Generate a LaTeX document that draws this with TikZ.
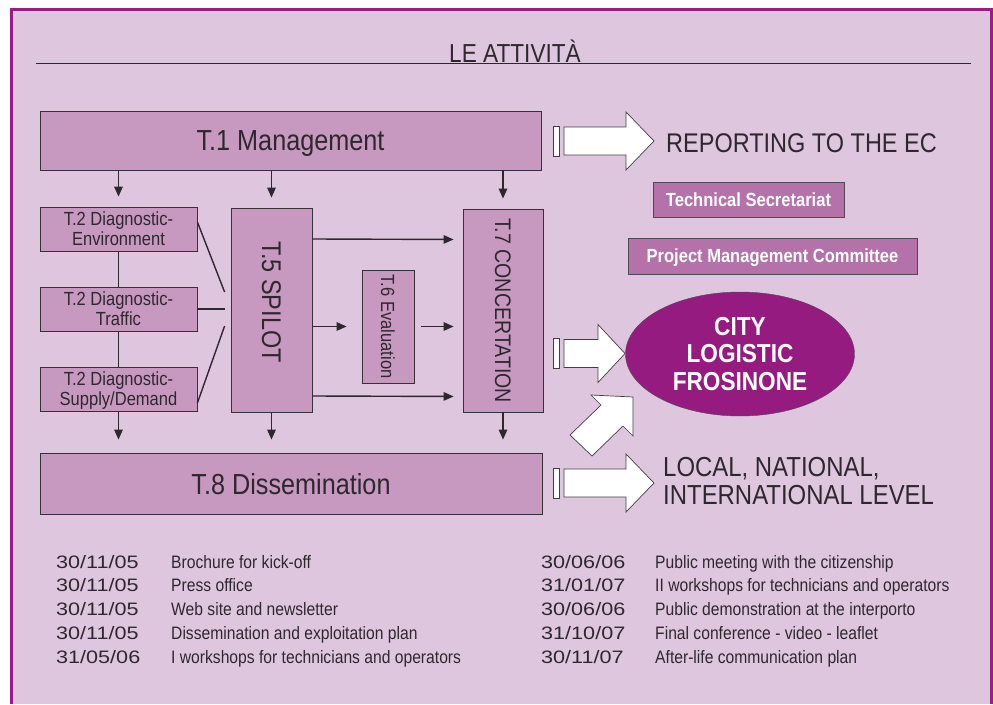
\documentclass[tikz,border=0pt]{standalone}
\usepackage{fontspec}
\setmainfont{Liberation Sans}[FakeStretch=0.87]
\newfontfamily\datefont{Liberation Sans}[FakeStretch=1.2]
\usepackage{tikz}
\usetikzlibrary{positioning, shapes.geometric, arrows.meta, calc}

\definecolor{lilacbg}{RGB}{223,198,223}
\definecolor{framepurple}{RGB}{155,27,135}
\definecolor{taskfill}{RGB}{199,153,193}
\definecolor{badgefill}{RGB}{181,113,170}
\definecolor{cityfill}{RGB}{150,27,128}
\definecolor{textdark}{RGB}{45,40,45}

\begin{document}
\begin{tikzpicture}[x=1pt, y=-1pt,
    task/.style={draw=black!80, fill=taskfill, line width=0.8pt, inner sep=0pt, text=textdark, align=center, text depth=0pt},
    arr/.style={-{Triangle[length=10pt,width=8.5pt]}, line width=1.4pt, draw=textdark},
    link/.style={line width=1.4pt, draw=textdark},
    blockarrow/.style={draw=black!75, fill=white, line width=0.7pt},
    badge/.style={draw=black!70, fill=badgefill, text=white, inner sep=0pt, text depth=0pt, font={\fontsize{19}{22}\selectfont\bfseries}},
    entry/.style={anchor=base west, inner sep=0pt, text=textdark, font={\fontsize{18}{20}\selectfont}}]
  \useasboundingbox (0,0) rectangle (993,704);
  \fill[white] (0,0) rectangle (993,704);
  \fill[lilacbg] (11,9) rectangle (991,704);
  \draw[framepurple, line width=3pt] (11,704) -- (11,9) -- (991,9) -- (991,704);

  \draw[textdark, line width=0.9pt] (36,63) -- (971,63);
  \node[anchor=base, inner sep=0pt, text=textdark, font={\fontsize{26}{28}\selectfont}] (title) at (515,62) {LE ATTIVITÀ};

  % tasks
  \node[task, minimum width=501pt, minimum height=59pt, font={\fontsize{29}{30}\selectfont}] (t1) at (290.5,140.5) {T.1 Management};
  \node[task, minimum width=157pt, minimum height=44pt, font={\fontsize{19}{20}\selectfont}] (env) at (118.5,229) {T.2 Diagnostic-\\Environment};
  \node[task, minimum width=157pt, minimum height=44pt, font={\fontsize{19}{20}\selectfont}] (traffic) at (118.5,309) {T.2 Diagnostic-\\Traffic};
  \node[task, minimum width=157pt, minimum height=44pt, font={\fontsize{19}{20}\selectfont}] (supply) at (118.5,389) {T.2 Diagnostic-\\Supply/Demand};
  \node[task, rotate=-90, minimum width=204pt, minimum height=81pt, font={\fontsize{27}{30}\selectfont}] (spilot) at (271.5,310) {T.5 SPILOT\hspace*{16pt}};
  \node[task, rotate=-90, minimum width=113pt, minimum height=52pt, font={\fontsize{19}{20}\selectfont}] (eval) at (388,326.5) {T.6 Evaluation};
  \node[task, rotate=-90, minimum width=203pt, minimum height=80pt, font={\fontsize{22.5}{24}\selectfont}] (concert) at (503,310.5) {T.7 CONCERTATION};
  \node[task, minimum width=502pt, minimum height=61pt, font={\fontsize{29}{30}\selectfont}] (t8) at (291,483.5) {T.8 Dissemination};

  % rotated boxes: west is on top, east at the bottom, south on the left, north on the right
  \foreach \n/\a in {env/north, spilot/west, concert/west}
    \draw[arr, shorten >=10pt] (t1.south -| \n) -- (\n.\a);
  \foreach \n/\a in {supply/south, spilot/east, concert/east}
    \draw[arr, shorten >=13pt] (\n.\a) -- (t8.north -| \n);
  \draw[link] (env.south) -- (traffic.north);
  \draw[link] (traffic.south) -- (supply.north);
  \draw[link] ($(env.east)+(0,-7)$) -- ($(spilot.south)+(-6,-18)$);
  \draw[link, shorten >=6pt] (traffic.east) -- (traffic.east -| spilot.south);
  \draw[link] ($(supply.east)+(0,14)$) -- ($(spilot.south)+(-6,16)$);
  \foreach \dy in {-71,86}
    \draw[arr, shorten >=9pt] ($(spilot.north)+(0,\dy)$) -- ($(concert.south)+(0,\dy)$);
  \draw[arr, shorten >=15pt] (spilot.north |- eval.south) -- (eval.south);
  \draw[arr, shorten <=7pt, shorten >=9pt] (eval.north) -- (concert.south |- eval.north);

  % outcomes
  \foreach \yc/\xh/\xt in {141/626/654, 353.5/598/625, 483/626/654} {
    \draw[blockarrow] (553,\yc-15) rectangle (559,\yc+15);
    \draw[blockarrow] (564,\yc-14) -- (\xh,\yc-14) -- (\xh,\yc-29) -- (\xt,\yc) -- (\xh,\yc+29) -- (\xh,\yc+14) -- (564,\yc+14) -- cycle;
  }
  \draw[blockarrow] (570,435) -- (592,456) -- (623,426) -- (633,436) -- (633,397) -- (591,395) -- (601,405) -- cycle;

  \node[anchor=west, inner sep=0pt, text=textdark, font={\fontsize{27}{28}\selectfont}] (report) at (666,143) {REPORTING TO THE EC};
  \node[anchor=west, inner sep=0pt, text=textdark, align=left, font={\fontsize{27.5}{28}\selectfont}] (level) at (663,481) {LOCAL, NATIONAL,\\INTERNATIONAL LEVEL};
  \node[badge, minimum width=191pt, minimum height=35pt] (techsec) at (748.5,199.5) {Technical Secretariat};
  \node[badge, minimum width=289pt, minimum height=36pt] (pmc) at (772.5,256) {Project Management Committee};
  \node[ellipse, draw=black!70, fill=cityfill, text=white, inner sep=0pt, minimum width=229pt, minimum height=124pt, align=center,
        font={\fontsize{26}{27.5}\selectfont\bfseries}] (city) at (740,354) {CITY\\LOGISTIC\\FROSINONE};

  % dissemination calendar
  \foreach \d/\t [count=\i] in {{30/11/05}/{Brochure for kick-off}, {30/11/05}/{Press office}, {30/11/05}/{Web site and newsletter},
      {30/11/05}/{Dissemination and exploitation plan}, {31/05/06}/{I workshops for technicians and operators}} {
    \node[entry] (ld\i) at (56,568+23.8*\i-23.8) {\datefont\d};
    \node[entry] (lt\i) at (171,568+23.8*\i-23.8) {\t};
  }
  \foreach \d/\t [count=\i] in {{30/06/06}/{Public meeting with the citizenship}, {31/01/07}/{II workshops for technicians and operators},
      {30/06/06}/{Public demonstration at the interporto}, {31/10/07}/{Final conference - video - leaflet}, {30/11/07}/{After-life communication plan}} {
    \node[entry] (rd\i) at (541,568+23.8*\i-23.8) {\datefont\d};
    \node[entry] (rt\i) at (655,568+23.8*\i-23.8) {\t};
  }
\end{tikzpicture}
\end{document}
